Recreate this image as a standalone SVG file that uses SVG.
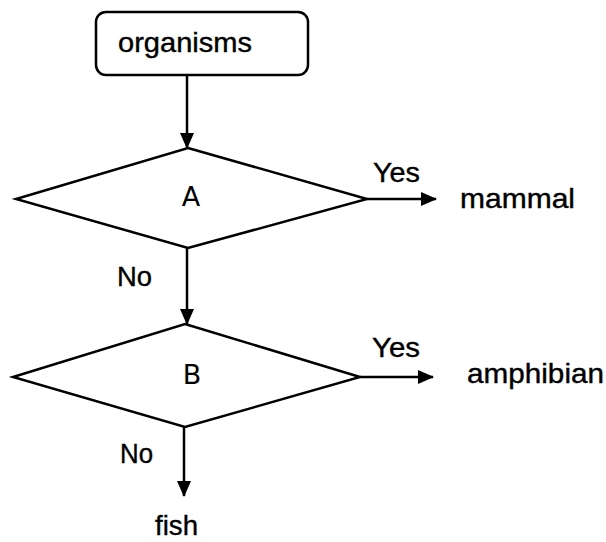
<svg xmlns="http://www.w3.org/2000/svg" width="606" height="542" viewBox="0 0 606 542">
<defs>
<marker id="ah" markerWidth="16" markerHeight="14" refX="15" refY="7" orient="auto" markerUnits="userSpaceOnUse">
<path d="M0,0 L16,7 L0,14 z" fill="#000"/>
</marker>
<style>
.shape{fill:#fff;stroke:#000;stroke-width:2.5}
.conn{stroke:#000;stroke-width:2.5;fill:none}
.t{font-family:"Liberation Sans",Arial,sans-serif;font-size:28px;fill:#000;stroke:#000;stroke-width:0.4}
.c{font-family:"DejaVu Sans",sans-serif;font-size:27px;fill:#000;text-anchor:middle}
</style>
</defs>
<rect width="606" height="542" fill="#fff"/>
<g id="connectors">
<line class="conn" x1="187" y1="75" x2="187" y2="148" marker-end="url(#ah)"/>
<line class="conn" x1="367" y1="199" x2="436" y2="199" marker-end="url(#ah)"/>
<line class="conn" x1="187" y1="248" x2="187" y2="324" marker-end="url(#ah)"/>
<line class="conn" x1="360" y1="377" x2="433" y2="377" marker-end="url(#ah)"/>
<line class="conn" x1="184" y1="427" x2="184" y2="496" marker-end="url(#ah)"/>
<text class="t" x="373" y="182" textLength="47" lengthAdjust="spacingAndGlyphs">Yes</text>
<text class="t" x="117" y="286" textLength="35" lengthAdjust="spacingAndGlyphs">No</text>
<text class="t" x="372" y="357" textLength="48" lengthAdjust="spacingAndGlyphs">Yes</text>
<text class="t" x="120" y="463" textLength="33" lengthAdjust="spacingAndGlyphs">No</text>
</g>
<g id="organisms">
<rect class="shape" x="96" y="12" width="212" height="63" rx="10"/>
<text class="t" x="118" y="52" textLength="134" lengthAdjust="spacingAndGlyphs">organisms</text>
</g>
<g id="A">
<polygon class="shape" points="188,148 367,199 188,248 16,199"/>
<text class="c" x="191" y="206">A</text>
</g>
<g id="B">
<polygon class="shape" points="185,324 360,377 185,427 13,377"/>
<text class="c" x="192" y="384">B</text>
</g>
<g id="mammal">
<text class="t" x="460" y="208" textLength="115" lengthAdjust="spacingAndGlyphs">mammal</text>
</g>
<g id="amphibian">
<text class="t" x="467" y="383" textLength="137" lengthAdjust="spacingAndGlyphs">amphibian</text>
</g>
<g id="fish">
<text class="t" x="155" y="535" textLength="43" lengthAdjust="spacingAndGlyphs">fish</text>
</g>
</svg>
